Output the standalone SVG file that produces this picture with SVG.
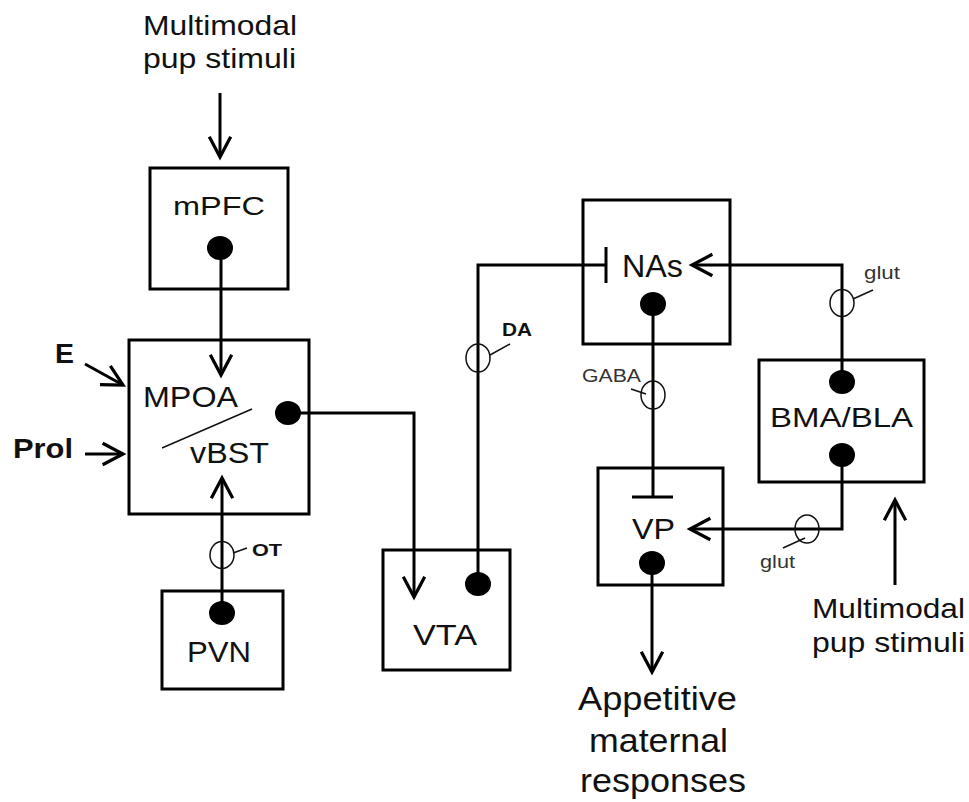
<svg xmlns="http://www.w3.org/2000/svg" width="969" height="802" viewBox="0 0 969 802">
<style>
.box{fill:none;stroke:#000;stroke-width:3}
.dot{fill:#000}
.ln{fill:none;stroke:#000;stroke-width:3}
.thin{fill:none;stroke:#111;stroke-width:1.5}
text{font-family:"Liberation Sans",Arial,sans-serif;fill:#111}
.lb{font-size:30px}
.big{font-size:28px}
.bold{font-weight:bold}
.sm{font-size:18px;fill:#333}
.app{font-size:34px}
</style>
<defs>
<marker id="arr" markerUnits="userSpaceOnUse" markerWidth="30" markerHeight="30" viewBox="-24 -14 28 28" refX="0" refY="0" orient="auto">
<path d="M-19,-10 L0,0 L-19,10" fill="none" stroke="#000" stroke-width="3"/>
</marker>
</defs>
<rect width="969" height="802" fill="#fff"/>

<g id="stimuli-top">
<text class="big" x="143" y="35" textLength="154" lengthAdjust="spacingAndGlyphs">Multimodal</text>
<text class="big" x="143" y="68" textLength="153" lengthAdjust="spacingAndGlyphs">pup stimuli</text>
</g>

<g id="mPFC">
<rect class="box" x="150" y="168" width="138" height="121"/>
<text class="lb" x="173" y="215" textLength="92" lengthAdjust="spacingAndGlyphs" style="font-size:26px">mPFC</text>
<ellipse class="dot" cx="220" cy="248" rx="13" ry="12"/>
</g>

<g id="MPOA">
<rect class="box" x="129" y="340" width="180" height="174"/>
<text class="lb" x="143" y="407" textLength="95" lengthAdjust="spacingAndGlyphs">MPOA</text>
<line class="thin" x1="162" y1="448" x2="252" y2="409"/>
<text class="lb" x="190" y="463" textLength="79" lengthAdjust="spacingAndGlyphs">vBST</text>
<ellipse class="dot" cx="288" cy="413" rx="13" ry="12"/>
</g>

<g id="E">
<text class="big bold" x="55" y="363" textLength="19" lengthAdjust="spacingAndGlyphs">E</text>
</g>
<g id="Prol">
<text class="big bold" x="13" y="458" textLength="60" lengthAdjust="spacingAndGlyphs">Prol</text>
</g>

<g id="PVN">
<rect class="box" x="162" y="591" width="121" height="98"/>
<text class="lb" x="187" y="662" textLength="64" lengthAdjust="spacingAndGlyphs">PVN</text>
<ellipse class="dot" cx="222" cy="613" rx="13" ry="12"/>
</g>

<g id="VTA">
<rect class="box" x="383" y="550" width="127" height="120"/>
<text class="lb" x="413" y="645" textLength="64" lengthAdjust="spacingAndGlyphs">VTA</text>
<ellipse class="dot" cx="478" cy="584" rx="13" ry="12"/>
</g>

<g id="NAs">
<rect class="box" x="583" y="200" width="147" height="144"/>
<text class="lb" x="622" y="277" textLength="61" lengthAdjust="spacingAndGlyphs" style="font-size:31px">NAs</text>
<ellipse class="dot" cx="653" cy="304" rx="13" ry="12"/>
</g>

<g id="VP">
<rect class="box" x="598" y="468" width="125" height="117"/>
<text class="lb" x="632" y="539" textLength="43" lengthAdjust="spacingAndGlyphs" style="font-size:29px">VP</text>
<ellipse class="dot" cx="652" cy="563" rx="13" ry="12"/>
</g>

<g id="BMA-BLA">
<rect class="box" x="759" y="360" width="165" height="122"/>
<text class="lb" x="770" y="427" textLength="143" lengthAdjust="spacingAndGlyphs" style="font-size:28px">BMA/BLA</text>
<ellipse class="dot" cx="842" cy="382" rx="13" ry="12"/>
<ellipse class="dot" cx="842" cy="455" rx="13" ry="12"/>
</g>

<g id="stimuli-bottom">
<text class="big" x="812" y="618" textLength="153" lengthAdjust="spacingAndGlyphs">Multimodal</text>
<text class="big" x="812" y="652" textLength="153" lengthAdjust="spacingAndGlyphs">pup stimuli</text>
</g>

<g id="appetitive">
<text class="app" x="578" y="710" textLength="159" lengthAdjust="spacingAndGlyphs">Appetitive</text>
<text class="app" x="589" y="752" textLength="139" lengthAdjust="spacingAndGlyphs">maternal</text>
<text class="app" x="580" y="792" textLength="166" lengthAdjust="spacingAndGlyphs">responses</text>
</g>

<g id="connectors">
<line class="ln" x1="220" y1="93" x2="220" y2="157" marker-end="url(#arr)"/>
<line class="ln" x1="221" y1="248" x2="221" y2="375" marker-end="url(#arr)"/>
<line class="ln" x1="85" y1="364" x2="123" y2="385" marker-end="url(#arr)"/>
<line class="ln" x1="85" y1="454" x2="123" y2="454" marker-end="url(#arr)"/>
<line class="ln" x1="222" y1="613" x2="222" y2="478" marker-end="url(#arr)"/>
<ellipse class="thin" cx="222" cy="555" rx="12" ry="13.5"/>
<line class="thin" x1="233" y1="553" x2="247" y2="548"/>
<text class="bold" x="252" y="556" textLength="30" lengthAdjust="spacingAndGlyphs" style="font-size:16px">OT</text>

<polyline class="ln" points="288,413 414,413 414,597" marker-end="url(#arr)"/>

<polyline class="ln" points="478,584 478,265 606,265"/>
<line class="ln" x1="606" y1="247" x2="606" y2="283"/>
<ellipse class="thin" cx="478" cy="358" rx="12" ry="14"/>
<line class="thin" x1="490" y1="355" x2="510" y2="344"/>
<text class="bold" x="502" y="336" textLength="30" lengthAdjust="spacingAndGlyphs" style="font-size:18px">DA</text>

<polyline class="ln" points="842,382 842,265 692,265" marker-end="url(#arr)"/>
<ellipse class="thin" cx="842" cy="303" rx="12" ry="13.5"/>
<line class="thin" x1="853" y1="299" x2="873" y2="290"/>
<text class="sm" x="864" y="279" textLength="36" lengthAdjust="spacingAndGlyphs">glut</text>

<line class="ln" x1="653" y1="304" x2="653" y2="497"/>
<line class="ln" x1="632" y1="497" x2="673" y2="497"/>
<ellipse class="thin" cx="653" cy="395" rx="12" ry="14"/>
<line class="thin" x1="631" y1="389" x2="646" y2="394"/>
<text class="sm" x="582" y="382" textLength="59" lengthAdjust="spacingAndGlyphs">GABA</text>

<polyline class="ln" points="842,455 842,529 690,529" marker-end="url(#arr)"/>
<ellipse class="thin" cx="807" cy="529" rx="12" ry="14"/>
<line class="thin" x1="805" y1="538" x2="783" y2="548"/>
<text class="sm" x="760" y="568" textLength="35" lengthAdjust="spacingAndGlyphs">glut</text>

<line class="ln" x1="652" y1="563" x2="652" y2="672" marker-end="url(#arr)"/>
<line class="ln" x1="895" y1="585" x2="895" y2="500" marker-end="url(#arr)"/>
</g>
</svg>
